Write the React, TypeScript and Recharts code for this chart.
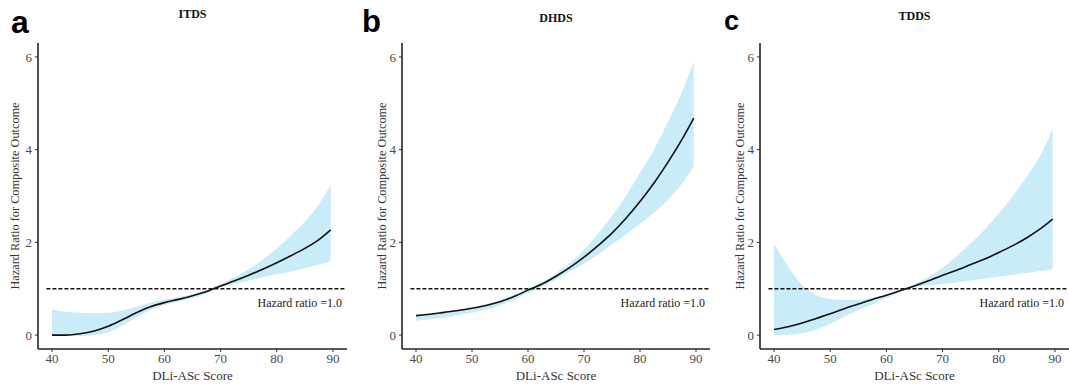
import React from 'react';
import {
  ComposedChart,
  Area,
  Line,
  XAxis,
  YAxis,
  ReferenceLine,
  Label,
} from 'recharts';

// DLi-ASc score grid shared by all three panels
const scores = [40, 42.5, 45, 47.5, 50, 52.5, 55, 57.5, 60, 62.5, 65, 67.5, 70, 72.5, 75, 77.5, 80, 82.5, 85, 87.5, 89.6];

// a: ITDS
const itdsHr = [0.0, 0.0, 0.03, 0.09, 0.19, 0.33, 0.48, 0.61, 0.7, 0.77, 0.85, 0.94, 1.06, 1.17, 1.29, 1.42, 1.56, 1.71, 1.87, 2.06, 2.27];
const itdsLow = [0.0, -0.01, -0.02, 0.0, 0.06, 0.2, 0.38, 0.54, 0.65, 0.73, 0.8, 0.9, 1.03, 1.1, 1.18, 1.25, 1.31, 1.37, 1.44, 1.52, 1.6];
const itdsHigh = [0.55, 0.5, 0.48, 0.47, 0.48, 0.53, 0.61, 0.7, 0.77, 0.82, 0.88, 0.97, 1.1, 1.25, 1.42, 1.63, 1.87, 2.15, 2.45, 2.82, 3.23];

// b: DHDS
const dhdsHr = [0.42, 0.45, 0.49, 0.53, 0.58, 0.64, 0.72, 0.83, 0.97, 1.1, 1.27, 1.46, 1.68, 1.93, 2.2, 2.52, 2.88, 3.28, 3.73, 4.22, 4.68];
const dhdsLow = [0.31, 0.34, 0.38, 0.43, 0.48, 0.55, 0.64, 0.76, 0.9, 1.04, 1.2, 1.37, 1.54, 1.74, 1.96, 2.17, 2.4, 2.64, 2.92, 3.27, 3.63];
const dhdsHigh = [0.44, 0.47, 0.5, 0.55, 0.6, 0.67, 0.76, 0.87, 1.0, 1.14, 1.33, 1.56, 1.84, 2.18, 2.57, 3.0, 3.5, 4.0, 4.6, 5.25, 5.9];

// c: TDDS
const tddsHr = [0.12, 0.18, 0.26, 0.36, 0.46, 0.57, 0.67, 0.77, 0.86, 0.96, 1.06, 1.17, 1.29, 1.4, 1.52, 1.64, 1.78, 1.93, 2.1, 2.3, 2.5];
const tddsLow = [0.0, 0.01, 0.04, 0.12, 0.24, 0.4, 0.54, 0.66, 0.8, 0.93, 1.03, 1.07, 1.1, 1.14, 1.18, 1.22, 1.26, 1.3, 1.34, 1.38, 1.42];
const tddsHigh = [1.97, 1.48, 1.08, 0.86, 0.78, 0.76, 0.76, 0.8, 0.88, 0.97, 1.1, 1.26, 1.45, 1.7, 1.98, 2.28, 2.62, 3.0, 3.42, 3.9, 4.45];

const xTicks = [40, 50, 60, 70, 80, 90];
const yTicks = [0, 2, 4, 6];

const serif = '"Liberation Serif", "Times New Roman", serif';
const BAND = '#c8ecf8';

function buildRows(hr: number[], low: number[], high: number[]) {
  return scores.map((s, i) => ({ score: s, hr: hr[i], band: [low[i], high[i]] }));
}

function Panel({
  left,
  width,
  yAxisWidth,
  yTitleGap,
  marginRight,
  letter,
  letterSize,
  letterX,
  letterY,
  title,
  titleY,
  hr,
  low,
  high,
}: any) {
  const data = buildRows(hr, low, high);
  const plotLeft = yAxisWidth;
  const plotRight = width - marginRight;
  return (
    <div style={{ position: 'absolute', left, top: 0, width, height: 385 }}>
      <ComposedChart
        width={width}
        height={385}
        data={data}
        margin={{ top: 43, right: marginRight, bottom: 0, left: 0 }}
      >
        <XAxis
          dataKey="score"
          type="number"
          domain={[37.5, 92.5]}
          ticks={xTicks}
          allowDataOverflow
          height={36}
          tickSize={3}
          tickMargin={2}
          axisLine={{ stroke: '#222', strokeWidth: 1.6 }}
          tickLine={{ stroke: '#333' }}
          tick={{ fill: '#4a4a4a', fontSize: 13, fontFamily: serif }}
        >
          <Label
            value="DLi-ASc Score"
            position="insideBottom"
            offset={5}
            style={{ fill: '#333', fontSize: 13, fontFamily: serif }}
          />
        </XAxis>
        <YAxis
          type="number"
          domain={[-0.3, 6.3]}
          ticks={yTicks}
          allowDataOverflow
          width={yAxisWidth}
          tickSize={3}
          tickMargin={3}
          axisLine={{ stroke: '#222', strokeWidth: 1.6 }}
          tickLine={{ stroke: '#333' }}
          tick={{ fill: '#4a4a4a', fontSize: 13, fontFamily: serif }}
          label={(props: any) => {
            const vb = props.viewBox || { x: 0, y: 43, width: yAxisWidth, height: 306 };
            const cx = vb.x + vb.width - yTitleGap;
            const cy = vb.y + vb.height / 2;
            return (
              <text
                x={cx}
                y={cy}
                transform={`rotate(-90 ${cx} ${cy})`}
                textAnchor="middle"
                dominantBaseline="central"
                fill="#333"
                fontSize={12.3}
                fontFamily={serif}
              >
                Hazard Ratio for Composite Outcome
              </text>
            );
          }}
        />
        <Area
          dataKey="band"
          type="monotone"
          stroke="none"
          fill={BAND}
          fillOpacity={1}
          isAnimationActive={false}
          activeDot={false}
        />
        <Line
          dataKey="hr"
          type="monotone"
          stroke="#111"
          strokeWidth={1.6}
          dot={false}
          activeDot={false}
          isAnimationActive={false}
        />
        <ReferenceLine
          segment={[
            { x: 39, y: 1 },
            { x: 92.4, y: 1 },
          ]}
          stroke="#111"
          strokeWidth={1.3}
          strokeDasharray="4 2"
          ifOverflow="visible"
        />
        <ReferenceLine
          y={1}
          stroke="none"
          label={(props: any) => {
            const vb = props.viewBox || { x: plotLeft, y: 288, width: plotRight - plotLeft };
            return (
              <text
                x={vb.x + vb.width - 5}
                y={vb.y + 14}
                textAnchor="end"
                dominantBaseline="central"
                fill="#222"
                fontSize={12}
                fontFamily={serif}
              >
                Hazard ratio =1.0
              </text>
            );
          }}
        />
      </ComposedChart>
      <div
        style={{
          position: 'absolute',
          left: letterX,
          top: letterY,
          fontFamily: '"Liberation Sans", Arial, sans-serif',
          fontWeight: 700,
          fontSize: letterSize,
          lineHeight: 1,
          color: '#000',
        }}
      >
        {letter}
      </div>
      <div
        style={{
          position: 'absolute',
          left: plotLeft,
          width: plotRight - plotLeft,
          top: titleY,
          textAlign: 'center',
          fontFamily: serif,
          fontWeight: 700,
          fontSize: 12,
          lineHeight: 1,
          color: '#111',
        }}
      >
        {title}
      </div>
    </div>
  );
}

export default function App() {
  return (
    <div style={{ position: 'absolute', left: 0, top: 0, width: 1069, height: 385, background: '#fff', overflow: 'hidden' }}>
      <Panel
        left={0}
        width={357}
        yAxisWidth={38}
        yTitleGap={23}
        marginRight={10}
        letter="a"
        letterSize={32}
        letterX={11}
        letterY={6}
        title="ITDS"
        titleY={8}
        hr={itdsHr}
        low={itdsLow}
        high={itdsHigh}
      />
      <Panel
        left={357}
        width={357}
        yAxisWidth={45}
        yTitleGap={20}
        marginRight={4}
        letter="b"
        letterSize={31}
        letterX={5}
        letterY={6}
        title="DHDS"
        titleY={12}
        hr={dhdsHr}
        low={dhdsLow}
        high={dhdsHigh}
      />
      <Panel
        left={714}
        width={355}
        yAxisWidth={46}
        yTitleGap={20}
        marginRight={0}
        letter="c"
        letterSize={27}
        letterX={10}
        letterY={8}
        title="TDDS"
        titleY={10}
        hr={tddsHr}
        low={tddsLow}
        high={tddsHigh}
      />
    </div>
  );
}
